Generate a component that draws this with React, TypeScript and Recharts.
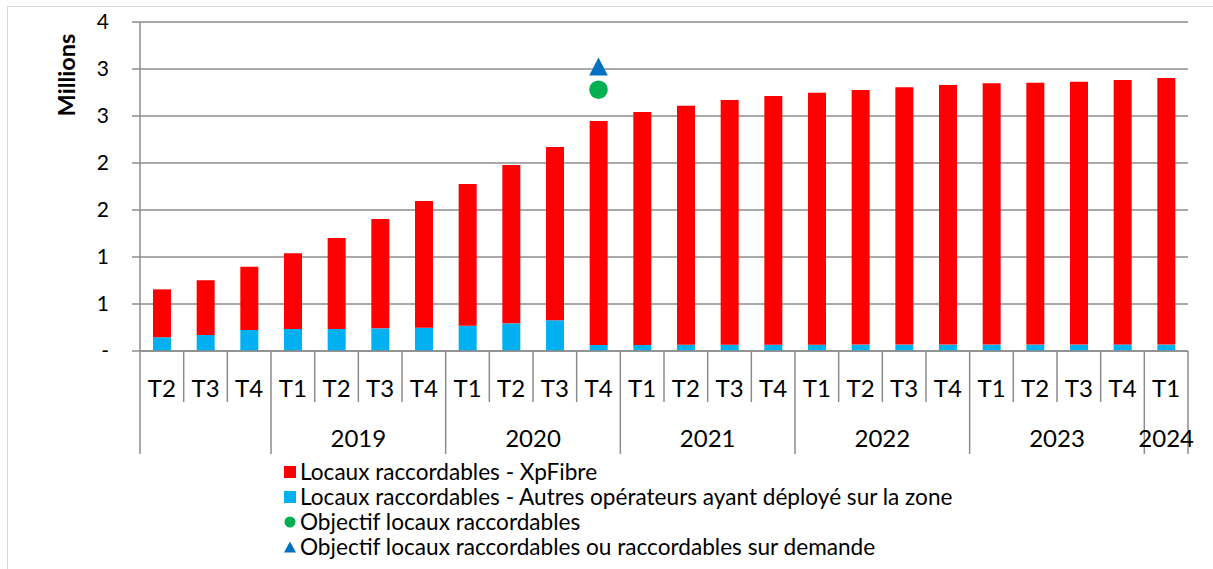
import React from "react";
import { ComposedChart, Bar, Line, XAxis, YAxis, CartesianGrid, Legend } from "recharts";

const quarters = ["T2","T3","T4","T1","T2","T3","T4","T1","T2","T3","T4","T1","T2","T3","T4","T1","T2","T3","T4","T1","T2","T3","T4","T1"];
const years = ["","","","2019","2019","2019","2019","2020","2020","2020","2020","2021","2021","2021","2021","2022","2022","2022","2022","2023","2023","2023","2023","2024"];
const autres = [0.146,0.170,0.223,0.234,0.234,0.241,0.248,0.269,0.294,0.327,0.064,0.064,0.066,0.066,0.066,0.066,0.068,0.068,0.068,0.068,0.068,0.068,0.070,0.068];
const xpfibre = [0.510,0.582,0.674,0.805,0.968,1.163,1.348,1.508,1.685,1.843,2.383,2.479,2.544,2.604,2.647,2.682,2.709,2.737,2.762,2.780,2.786,2.797,2.813,2.836];
const objectif = [null,null,null,null,null,null,null,null,null,null,2.78,null,null,null,null,null,null,null,null,null,null,null,null,null];
const objectifDemande = [null,null,null,null,null,null,null,null,null,null,3.02,null,null,null,null,null,null,null,null,null,null,null,null,null];
const yTicks = [0,0.5,1,1.5,2,2.5,3,3.5];
const yTickLabels = ["-","1","1","2","2","3","3","4"];

const seriesNames = {
  xpfibre: "Locaux raccordables - XpFibre",
  autres: "Locaux raccordables - Autres opérateurs ayant déployé sur la zone",
  objectif: "Objectif locaux raccordables",
  objectifDemande: "Objectif locaux raccordables ou raccordables sur demande",
};
const legendOrder = ["xpfibre","autres","objectif","objectifDemande"];

const data = quarters.map((q, i) => ({
  quarter: q,
  year: years[i],
  autres: autres[i],
  xpfibre: xpfibre[i],
  objectif: objectif[i],
  objectifDemande: objectifDemande[i],
}));

const FONT = "Lato, 'DejaVu Sans', sans-serif";
const GRID = "#8c8c8c";
const RED = "#FF0000";
const BLUE = "#00B0F0";
const GREEN = "#00B050";
const DBLUE = "#0070C0";
const colors: Record<string, string> = { xpfibre: RED, autres: BLUE, objectif: GREEN, objectifDemande: DBLUE };

const XTick = (props: any) => {
  const { x, y, payload } = props;
  const i = payload.index;
  const half = payload.offset || 21.83;
  const isGroupStart = i === 0 || years[i] !== years[i - 1];
  const last = i === quarters.length - 1;
  let groupSize = 0;
  if (isGroupStart) {
    let j = i;
    while (j < years.length && years[j] === years[i]) { j++; groupSize++; }
  }
  const left = x - half;
  return (
    <g>
      <line x1={left} x2={left} y1={y} y2={y + 103} stroke={GRID} strokeWidth={1.5} strokeOpacity={isGroupStart ? 1 : 0} />
      {!isGroupStart && <line x1={left} x2={left} y1={y} y2={y + 51} stroke={GRID} strokeWidth={1.5} />}
      {last && <line x1={x + half} x2={x + half} y1={y} y2={y + 103} stroke={GRID} strokeWidth={1.5} />}
      <text x={x} y={y + 36} textAnchor="middle" dominantBaseline="central" fontFamily={FONT} fontSize={24} fill="#000">{payload.value}</text>
      {isGroupStart && years[i] !== "" && (
        <text x={left + groupSize * half} y={y + 86} textAnchor="middle" dominantBaseline="central" fontFamily={FONT} fontSize={24} fill="#000">{years[i]}</text>
      )}
    </g>
  );
};

const Marker = (shape: string, color: string) => (props: any) => {
  const { cx, cy, index } = props;
  if (cy == null || cx == null || isNaN(cy)) return <g key={`m-${shape}-${index}`} />;
  if (shape === "circle") return <circle key={`m-${shape}-${index}`} cx={cx} cy={cy} r={9.3} fill={color} />;
  return <polygon key={`m-${shape}-${index}`} points={`${cx},${cy - 9.5} ${cx + 9.3},${cy + 8.5} ${cx - 9.3},${cy + 8.5}`} fill={color} />;
};

const LegendIcon = ({ k, color }: any) => {
  if (k === "objectif") return <svg width={14} height={14}><circle cx={7} cy={7} r={5.5} fill={color} /></svg>;
  if (k === "objectifDemande") return <svg width={14} height={14}><polygon points="7,1.5 13,12.5 1,12.5" fill={color} /></svg>;
  return <svg width={14} height={14}><rect x={1} y={1} width={12} height={12} fill={color} /></svg>;
};

const renderLegend = (props: any) => {
  const payload = props.payload || [];
  const items = legendOrder.map((k) => payload.find((p: any) => p.dataKey === k)).filter(Boolean);
  return (
    <div style={{ fontFamily: FONT, fontSize: 22.6, color: "#000" }}>
      {items.map((p: any) => (
        <div key={p.dataKey} style={{ display: "flex", alignItems: "center", height: 25, whiteSpace: "nowrap" }}>
          <LegendIcon k={p.dataKey} color={colors[p.dataKey]} />
          <span style={{ marginLeft: 3 }}>{p.value}</span>
        </div>
      ))}
    </div>
  );
};

const MillionsLabel = () => (
  <text x={66} y={75} transform="rotate(-90 66 75)" textAnchor="middle" dominantBaseline="central" fontFamily={FONT} fontWeight="bold" fontSize={23.5} fill="#000">Millions</text>
);

export default function App() {
  return (
    <div style={{ position: "absolute", left: 0, top: 0, width: 1213, height: 569, overflow: "hidden", background: "#fff" }}>
      <div style={{ position: "absolute", left: 7, top: 6, width: 1300, height: 700, borderLeft: "1.5px solid #d9d9d9", borderTop: "1.5px solid #d9d9d9" }} />
      <ComposedChart width={1213} height={569} data={data} margin={{ top: 22, right: 25, left: 0, bottom: 114 }}>
        <CartesianGrid vertical={false} stroke={GRID} strokeWidth={1.5} />
        <XAxis dataKey="quarter" interval={0} tickLine={false} tickSize={0} tickMargin={0} height={104} axisLine={{ stroke: GRID, strokeWidth: 1.5 }} tick={<XTick />} />
        <YAxis
          width={140}
          domain={[0, 3.5]}
          ticks={yTicks}
          interval={0}
          tickSize={8}
          tickMargin={23}
          tickFormatter={(v: number) => yTickLabels[yTicks.indexOf(v)]}
          axisLine={{ stroke: GRID, strokeWidth: 1.5 }}
          tickLine={{ stroke: GRID, strokeWidth: 1.5 }}
          tick={{ fontFamily: FONT, fontSize: 21, fill: "#000" }}
          label={<MillionsLabel />}
        />
        <Bar dataKey="autres" name={seriesNames.autres} stackId="a" fill={BLUE} barSize={18} isAnimationActive={false} />
        <Bar dataKey="xpfibre" name={seriesNames.xpfibre} stackId="a" fill={RED} barSize={18} isAnimationActive={false} />
        <Line dataKey="objectif" name={seriesNames.objectif} stroke="none" fill={GREEN} dot={Marker("circle", GREEN)} activeDot={false} isAnimationActive={false} legendType="circle" />
        <Line dataKey="objectifDemande" name={seriesNames.objectifDemande} stroke="none" fill={DBLUE} dot={Marker("triangle", DBLUE)} activeDot={false} isAnimationActive={false} legendType="triangle" />
        <Legend content={renderLegend} layout="vertical" align="center" verticalAlign="middle" wrapperStyle={{ position: "absolute", left: 283, top: 459, width: "auto", height: "auto" }} />
      </ComposedChart>
    </div>
  );
}
